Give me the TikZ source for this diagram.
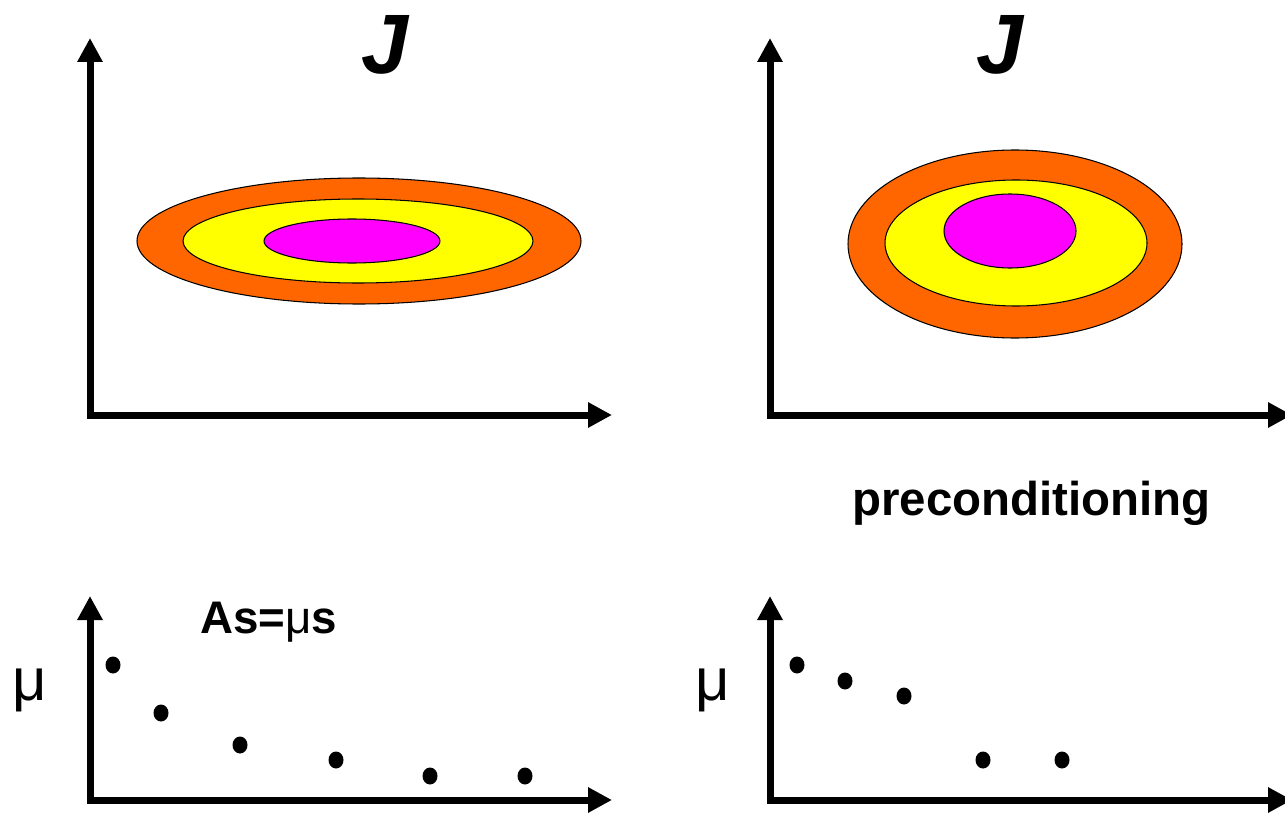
\documentclass[tikz,border=0pt]{standalone}
\usepackage{fontspec}
\setmainfont{Liberation Sans}
\usepackage{xcolor}
\usepackage{tikz}
\usetikzlibrary{arrows.meta}
\definecolor{RingOrange}{HTML}{FF6600}
\definecolor{RingYellow}{HTML}{FFFF00}
\definecolor{RingMagenta}{HTML}{FF00FF}

\begin{document}
\begin{tikzpicture}[
    axis/.style={line width=0.14cm, {Triangle[width=0.48cm,length=0.48cm]}-{Triangle[width=0.48cm,length=0.48cm]}},
    ring/.style={draw=black, line width=0.6pt},
    eigdot/.style={fill=black},
    bigJ/.style={font=\fontsize{48}{48}\selectfont\bfseries\itshape},
    caption/.style={font=\fontsize{26}{26}\selectfont\bfseries, inner sep=0pt},
    mulabel/.style={font=\fontsize{34}{34}\selectfont}
]
    \useasboundingbox (0,0) rectangle (25.7,16.24);

    % Drawing the axes
    \draw[axis] (1.8,15.48) |- (12.24,7.94);
    \draw[axis] (15.4,15.48) |- (25.84,7.94);
    \draw[axis] (1.8,4.32) |- (12.24,0.24);
    \draw[axis] (15.4,4.32) |- (25.84,0.24);

    % Drawing the stretched level sets
    \draw[ring, fill=RingOrange] (7.18,11.42) ellipse [x radius=4.44, y radius=1.26];
    \draw[ring, fill=RingYellow] (7.16,11.42) ellipse [x radius=3.5, y radius=0.84];
    \draw[ring, fill=RingMagenta] (7.04,11.42) ellipse [x radius=1.76, y radius=0.44];

    % Drawing the rounder level sets
    \draw[ring, fill=RingOrange] (20.3,11.36) ellipse [x radius=3.34, y radius=1.88];
    \draw[ring, fill=RingYellow] (20.32,11.38) ellipse [x radius=2.62, y radius=1.26];
    \draw[ring, fill=RingMagenta] (20.2,11.62) ellipse [x radius=1.32, y radius=0.74];

    % Drawing the eigenvalues
    \foreach \x/\y in {2.26/2.94, 3.22/1.98, 4.8/1.34, 6.72/1.04, 8.6/0.72, 10.5/0.72}
        \fill[eigdot] (\x,\y) ellipse [x radius=0.15, y radius=0.17];
    \foreach \x/\y in {15.94/2.94, 16.9/2.62, 18.08/2.32, 19.66/1.04, 21.24/1.04}
        \fill[eigdot] (\x,\y) ellipse [x radius=0.15, y radius=0.17];

    \node[bigJ] (jleft) at (7.7,15.34) {J};
    \node[bigJ] (jright) at (20.0,15.34) {J};
    \node[caption, anchor=base west, font=\fontsize{27}{27}\selectfont\bfseries] (precond) at (17.04,5.94) {preconditioning};
    \node[caption, anchor=base west] (eigeq) at (4.0,3.58) {As=\textmd{μ}s};
    \node[mulabel] (muleft) at (0.6,2.44) {μ};
    \node[mulabel] (muright) at (14.26,2.44) {μ};
\end{tikzpicture}
\end{document}
